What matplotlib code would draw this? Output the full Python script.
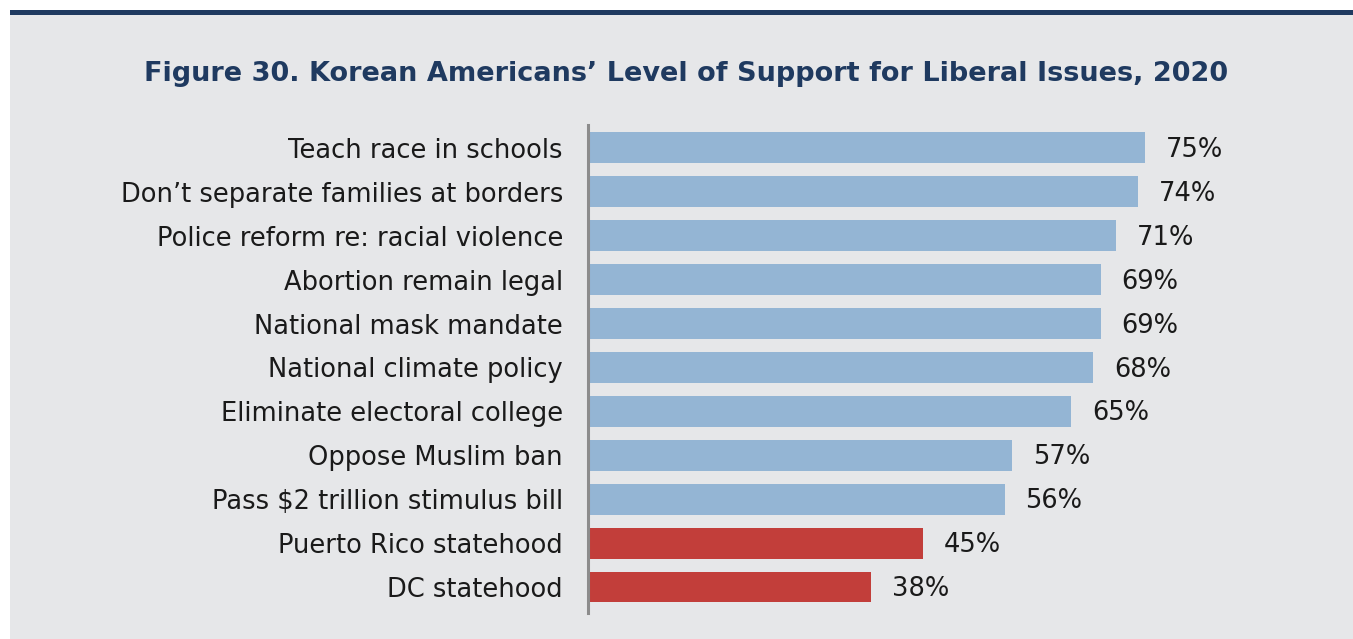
import matplotlib
matplotlib.use("Agg")
import matplotlib.pyplot as plt
from matplotlib.patches import Rectangle

categories = [
    "Teach race in schools",
    "Don\u2019t separate families at borders",
    "Police reform re: racial violence",
    "Abortion remain legal",
    "National mask mandate",
    "National climate policy",
    "Eliminate electoral college",
    "Oppose Muslim ban",
    "Pass $2 trillion stimulus bill",
    "Puerto Rico statehood",
    "DC statehood",
]
support = [75, 74, 71, 69, 69, 68, 65, 57, 56, 45, 38]
majority = [True] * 9 + [False] * 2

BLUE = "#94b5d4"
RED = "#c23e3a"
BG = "#e6e7e9"
NAVY = "#1f3a60"
TEXT = "#1a1a1a"
FONT = "DejaVu Sans"

W, H = 1353, 639
fig = plt.figure(figsize=(W / 100, H / 100), dpi=100)
fig.patch.set_facecolor("white")

# grey panel with navy rule on top
fig.patches.append(Rectangle((10 / W, 0), 1, 1 - 15 / H, transform=fig.transFigure,
                             facecolor=BG, edgecolor="none", zorder=0))
fig.patches.append(Rectangle((10 / W, 1 - 15 / H), 1, 5 / H, transform=fig.transFigure,
                             facecolor=NAVY, edgecolor="none", zorder=1))

fig.text(686 / W, 1 - 74 / H,
         "Figure 30. Korean Americans\u2019 Level of Support for Liberal Issues, 2020",
         ha="center", va="center", fontsize=19.5, fontweight="bold",
         color=NAVY, family=FONT, zorder=3)

left, right = 588, 1300
top, bottom = 125, 613
ax = fig.add_axes([left / W, 1 - bottom / H, (right - left) / W, (bottom - top) / H])
ax.set_zorder(2)
ax.set_facecolor("none")

ypos = list(range(len(categories)))
colors = [BLUE if m else RED for m in majority]
ax.barh(ypos, support, height=0.7, color=colors, left=0.3)

for y, v in zip(ypos, support):
    ax.annotate(f"{v}%", xy=(v + 0.3, y), xytext=(15, -1.5), textcoords="offset points",
                ha="left", va="center", fontsize=18.5, color=TEXT, family=FONT)

ax.set_xlim(0, (right - left) / 7.4)
ax.set_ylim(10.59, -0.52)
ax.set_yticks(ypos)
ax.set_yticklabels(categories, fontsize=18.5, color=TEXT, family=FONT)
ax.tick_params(axis="y", length=0, pad=18)
ax.set_xticks([])
for s in ["top", "right", "bottom"]:
    ax.spines[s].set_visible(False)
ax.spines["left"].set_color("#8c8c8c")
ax.spines["left"].set_linewidth(2.2)

fig.savefig("out.png", dpi=100, facecolor=fig.get_facecolor())
